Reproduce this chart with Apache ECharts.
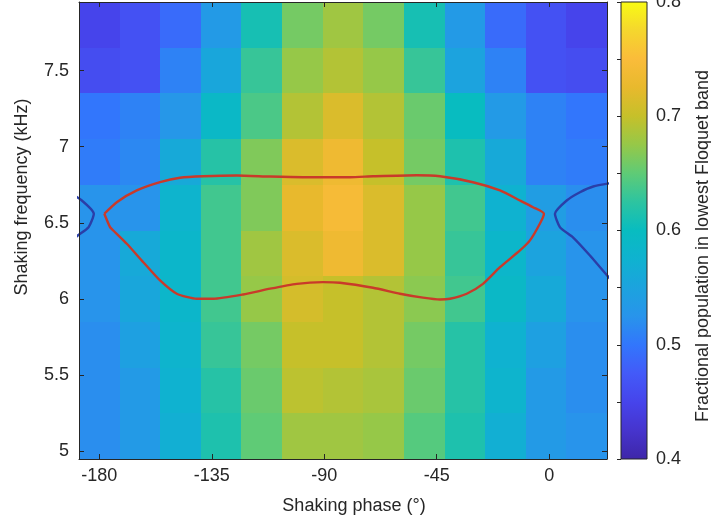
<!DOCTYPE html>
<html><head><meta charset="utf-8">
<script src="https://cdn.jsdelivr.net/npm/echarts@6/dist/echarts.min.js"></script>
<style>html,body{margin:0;padding:0;background:#fff}#c{width:711px;height:524px}</style>
</head><body><div id="c"></div>
<script>
// ---- data ----
const phases = [-180, -163.75, -147.5, -131.25, -115, -98.75, -82.5, -66.25, -50, -33.75, -17.5, -1.25, 15];
const freqs = [7.8, 7.5, 7.2, 6.9, 6.6, 6.3, 6.0, 5.7, 5.4, 5.1];
// fractional population, one row per frequency (top to bottom), one value per phase
const pop_7_8 = [0.45, 0.465, 0.49, 0.535, 0.61, 0.66, 0.68, 0.66, 0.61, 0.535, 0.49, 0.465, 0.45];
const pop_7_5 = [0.46, 0.465, 0.51, 0.555, 0.63, 0.675, 0.69, 0.675, 0.63, 0.55, 0.51, 0.465, 0.46];
const pop_7_2 = [0.50, 0.51, 0.53, 0.59, 0.64, 0.69, 0.715, 0.69, 0.655, 0.60, 0.535, 0.51, 0.50];
const pop_6_9 = [0.505, 0.515, 0.56, 0.62, 0.665, 0.715, 0.735, 0.70, 0.66, 0.615, 0.56, 0.51, 0.505];
const pop_6_6 = [0.525, 0.525, 0.58, 0.635, 0.665, 0.725, 0.745, 0.715, 0.675, 0.635, 0.575, 0.54, 0.52];
const pop_6_3 = [0.525, 0.56, 0.585, 0.635, 0.68, 0.715, 0.735, 0.715, 0.675, 0.63, 0.585, 0.55, 0.525];
const pop_6_0 = [0.525, 0.555, 0.585, 0.635, 0.675, 0.71, 0.70, 0.69, 0.67, 0.635, 0.59, 0.56, 0.525];
const pop_5_7 = [0.52, 0.545, 0.58, 0.63, 0.66, 0.70, 0.70, 0.69, 0.66, 0.62, 0.575, 0.545, 0.52];
const pop_5_4 = [0.52, 0.535, 0.575, 0.62, 0.655, 0.695, 0.69, 0.685, 0.655, 0.62, 0.58, 0.535, 0.52];
const pop_5_1 = [0.52, 0.535, 0.57, 0.615, 0.65, 0.68, 0.68, 0.675, 0.645, 0.615, 0.57, 0.535, 0.525];
const popRows = [pop_7_8, pop_7_5, pop_7_2, pop_6_9, pop_6_6, pop_6_3, pop_6_0, pop_5_7, pop_5_4, pop_5_1];

const xTicks = [-180, -135, -90, -45, 0];
const yTicks = [5, 5.5, 6, 6.5, 7, 7.5];
const cbLabels = [0.4, 0.5, 0.6, 0.7, 0.8];
const cbTicks = [0.4, 0.45, 0.5, 0.55, 0.6, 0.65, 0.7, 0.75, 0.8];
const cbRange = [0.4, 0.8];

// red closed contour [phase, frequency]
const redLoop = [
  [-178.0,6.560],[-173.0,6.636],[-165.0,6.713],[-155.7,6.767],[-147.7,6.796],[-138.4,6.806],[-125.0,6.811],
  [-111.7,6.804],[-98.5,6.800],[-90.5,6.800],[-79.7,6.800],[-70.5,6.806],[-53.0,6.813],[-43.7,6.806],
  [-30.5,6.767],[-19.7,6.713],[-11.7,6.647],[-6.5,6.603],[-2.1,6.560],
  [-3.7,6.496],[-7.7,6.385],[-11.7,6.319],[-19.7,6.209],[-26.5,6.100],[-33.0,6.035],[-39.7,6.002],
  [-43.7,5.997],[-50.5,6.009],[-59.7,6.035],[-70.5,6.074],[-83.7,6.107],[-90.5,6.111],[-101.0,6.100],
  [-111.7,6.068],[-122.5,6.030],[-134.4,6.002],[-141.0,6.002],[-149.0,6.035],[-155.7,6.122],[-162.4,6.242],
  [-169.0,6.363],[-174.4,6.450],[-175.7,6.472],[-178.0,6.560]
];
// blue contours at the edges
const blueLeft = [[-195.0,6.72],[-192.3,6.701],[-187.0,6.647],[-182.2,6.560],[-184.3,6.472],[-189.6,6.404],[-196.0,6.286]];
const blueRight = [[26.0,6.765],[17.6,6.739],[12.3,6.701],[7.0,6.647],[2.3,6.560],[4.3,6.472],[9.6,6.404],[16.3,6.286],[26.0,6.10]];

// parula-like colormap stops (0.4 -> 0.8)
const parula = ['#3e26a8','#4634cd','#4644eb','#435af8','#3276fc','#2894eb','#1ca3de','#0fb2d0','#08bcc0',
                '#2dc4a0','#5fcb76','#96c848','#c6c02a','#e8b92d','#fabc3a','#f5d72d','#f9fb14'];

// ---- build ----
const cells = [];
freqs.forEach((f, r) => phases.forEach((p, c) => cells.push([p, f, popRows[r][c]])));
const dx = phases[1] - phases[0];
const dy = freqs[0] - freqs[1];
const xMin = phases[0] - dx / 2, xMax = phases[phases.length - 1] + dx / 2;
const yMin = freqs[freqs.length - 1] - dy / 2, yMax = freqs[0] + dy / 2;

const FONT = "'Liberation Sans', Arial, Helvetica, sans-serif";
const INK = '#262626';
const chart = echarts.init(document.getElementById('c'), null, {renderer: 'canvas'});

const gradStops = parula.map((c, i) => ({offset: i / (parula.length - 1), color: c}));

const axisCommon = {
  type: 'value', z: 5,
  axisLine: {show: true, onZero: false, lineStyle: {color: INK, width: 1}},
  splitLine: {show: false},
  axisLabel: {color: INK, fontFamily: FONT, fontSize: 18},
};

chart.setOption({
  animation: false,
  grid: [
    {left: 79, top: 2, width: 528, height: 457, outerBoundsMode: 'none', containLabel: false},
    {left: 621, top: 2, width: 26, height: 457, outerBoundsMode: 'none', containLabel: false}
  ],
  xAxis: [
    Object.assign({}, axisCommon, {gridIndex: 0, min: xMin, max: xMax, position: 'bottom',
      axisTick: {inside: true, length: 5, customValues: xTicks, lineStyle: {color: INK}},
      axisLabel: Object.assign({}, axisCommon.axisLabel, {customValues: xTicks, margin: 8})}),
    Object.assign({}, axisCommon, {gridIndex: 0, min: xMin, max: xMax, position: 'top',
      axisTick: {inside: true, length: 5, customValues: xTicks, lineStyle: {color: INK}},
      axisLabel: {show: false}}),
    {type: 'value', gridIndex: 1, min: 0, max: 1, show: false}
  ],
  yAxis: [
    Object.assign({}, axisCommon, {gridIndex: 0, min: yMin, max: yMax, position: 'left',
      axisTick: {inside: true, length: 5, customValues: yTicks, lineStyle: {color: INK}},
      axisLabel: Object.assign({}, axisCommon.axisLabel, {customValues: yTicks, margin: 10})}),
    Object.assign({}, axisCommon, {gridIndex: 0, min: yMin, max: yMax, position: 'right',
      axisTick: {inside: true, length: 5, customValues: yTicks, lineStyle: {color: INK}},
      axisLabel: {show: false}}),
    Object.assign({}, axisCommon, {gridIndex: 1, min: cbRange[0], max: cbRange[1], position: 'right',
      axisLine: {show: false},
      axisTick: {inside: true, length: 4, customValues: cbTicks, lineStyle: {color: INK}},
      axisLabel: Object.assign({}, axisCommon.axisLabel, {customValues: cbLabels, margin: 9,
        formatter: v => v.toFixed(1)})})
  ],
  visualMap: {
    type: 'continuous', show: false, min: cbRange[0], max: cbRange[1], dimension: 2, seriesIndex: 0,
    inRange: {color: parula}
  },
  series: [
    {
      type: 'custom', xAxisIndex: 0, yAxisIndex: 0, z: 1, data: cells, clip: true,
      renderItem: function (params, api) {
        const x = api.value(0), y = api.value(1);
        const p0 = api.coord([x - dx / 2, y + dy / 2]);
        const p1 = api.coord([x + dx / 2, y - dy / 2]);
        const x0 = Math.round(p0[0]), y0 = Math.round(p0[1]);
        const x1 = Math.round(p1[0]), y1 = Math.round(p1[1]);
        return {type: 'rect', shape: {x: x0, y: y0, width: x1 - x0, height: y1 - y0},
          style: {fill: api.visual('color'), stroke: null}};
      }
    },
    {
      type: 'custom', xAxisIndex: 2, yAxisIndex: 2, z: 1, data: [cbRange],
      renderItem: function (params, api) {
        const p0 = api.coord([0, api.value(1)]);
        const p1 = api.coord([1, api.value(0)]);
        return {type: 'rect', shape: {x: p0[0], y: p0[1], width: p1[0] - p0[0], height: p1[1] - p0[1]},
          style: {fill: new echarts.graphic.LinearGradient(0, 1, 0, 0, gradStops), stroke: INK, lineWidth: 1}};
      }
    },
    {type: 'line', xAxisIndex: 0, yAxisIndex: 0, data: redLoop, showSymbol: false, smooth: 0.2, clip: true, z: 3,
      lineStyle: {color: '#c93a2a', width: 2.4}},
    {type: 'line', xAxisIndex: 0, yAxisIndex: 0, data: blueLeft, showSymbol: false, smooth: 0.2, clip: true, z: 3,
      lineStyle: {color: '#2a3ea8', width: 2.4}},
    {type: 'line', xAxisIndex: 0, yAxisIndex: 0, data: blueRight, showSymbol: false, smooth: 0.2, clip: true, z: 3,
      lineStyle: {color: '#2a3ea8', width: 2.4}}
  ],
  graphic: [
    {type: 'text', x: 354, y: 506, style: {text: 'Shaking phase (°)', fill: INK, font: '18px ' + FONT,
      textAlign: 'center', textVerticalAlign: 'middle'}},
    {type: 'text', x: 22, y: 197, rotation: Math.PI / 2, style: {text: 'Shaking frequency (kHz)', fill: INK,
      font: '18px ' + FONT, textAlign: 'center', textVerticalAlign: 'middle'}},
    {type: 'text', x: 703, y: 246, rotation: Math.PI / 2, style: {text: 'Fractional population in lowest Floquet band',
      fill: INK, font: '18px ' + FONT, textAlign: 'center', textVerticalAlign: 'middle'}}
  ]
});
</script>
</body></html>
